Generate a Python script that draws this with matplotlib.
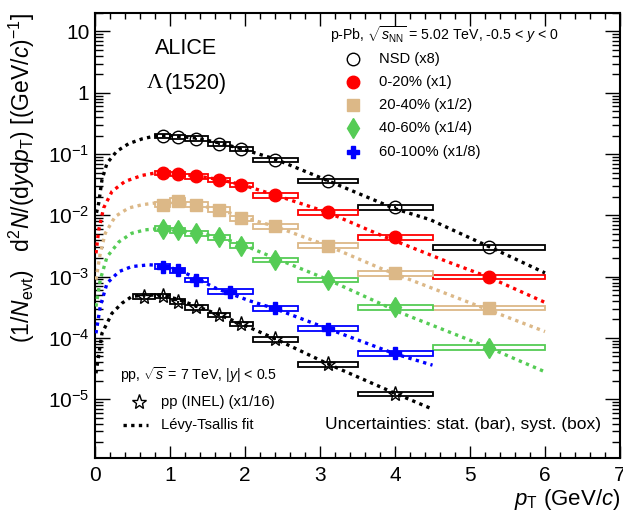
import numpy as np
import matplotlib
matplotlib.use('Agg')
import matplotlib.pyplot as plt
from matplotlib.patches import Rectangle
from matplotlib.lines import Line2D
from matplotlib.ticker import FuncFormatter, LogLocator, MultipleLocator

plt.rcParams['font.family'] = ['Liberation Sans', 'DejaVu Sans']
plt.rcParams['mathtext.fontset'] = 'custom'
plt.rcParams['mathtext.rm'] = 'Liberation Sans'
plt.rcParams['mathtext.it'] = 'Liberation Sans:italic'
plt.rcParams['mathtext.bf'] = 'Liberation Sans:bold'

# p-Pb bins (GeV/c)
edges_pPb = [0.8, 1.0, 1.2, 1.5, 1.8, 2.1, 2.7, 3.5, 4.5, 6.0]
pt_pPb = [0.9, 1.1, 1.35, 1.65, 1.95, 2.4, 3.1, 4.0, 5.25]
nsd = [0.200, 0.190, 0.179, 0.148, 0.121, 0.081, 0.0367, 0.0135, 0.0030]
c0_20 = [0.0491, 0.0472, 0.0432, 0.0382, 0.0316, 0.0212, 0.0112, 0.00436, 0.00100]
c20_40 = [0.0149, 0.0173, 0.0149, 0.0124, 0.00904, 0.00659, 0.00322, 0.00114, 0.000309]
c40_60 = [0.00604, 0.00566, 0.00513, 0.00441, 0.00322, 0.00188, 0.000888, 0.000315, 0.0000695]

edges_60 = [0.8, 1.0, 1.2, 1.5, 2.1, 2.7, 3.5, 4.5]
pt_60 = [0.9, 1.1, 1.35, 1.8, 2.4, 3.1, 4.0]
c60_100 = [0.00146, 0.00126, 0.000888, 0.000572, 0.000305, 0.000142, 0.0000562]

# pp 7 TeV
edges_pp = [0.5, 0.8, 1.0, 1.2, 1.5, 1.8, 2.1, 2.7, 3.5, 4.5]
pt_pp = [0.65, 0.9, 1.1, 1.35, 1.65, 1.95, 2.4, 3.1, 4.0]
pp = [0.000473, 0.000486, 0.000392, 0.000317, 0.000238, 0.000169, 0.0000950, 0.0000371, 0.0000122]

# Levy-Tsallis fit curves
fit_nsd_pt = [0.02, 0.05, 0.093, 0.16, 0.29, 0.45, 0.63, 0.8, 1.0, 1.35, 1.65, 1.95, 2.4, 3.1, 4.0, 4.47, 5.25, 6.0]
fit_nsd = [0.011, 0.016, 0.038, 0.071, 0.111, 0.148, 0.177, 0.197, 0.200, 0.182, 0.153, 0.122, 0.083, 0.037, 0.0128, 0.0085, 0.0031, 0.00115]
fit_0_20_pt = [0.013, 0.05, 0.115, 0.227, 0.40, 0.63, 0.8, 1.0, 1.35, 1.65, 1.95, 2.4, 3.1, 3.8, 4.69, 5.25, 6.0]
fit_0_20 = [0.0024, 0.0058, 0.0132, 0.0246, 0.0358, 0.0449, 0.049, 0.049, 0.0440, 0.0385, 0.0318, 0.0215, 0.0112, 0.0048, 0.00177, 0.00098, 0.00038]
fit_20_40_pt = [0.013, 0.07, 0.137, 0.27, 0.45, 0.63, 0.8, 1.0, 1.35, 1.65, 1.95, 2.4, 3.1, 3.8, 5.13, 6.0]
fit_20_40 = [0.00089, 0.0024, 0.0051, 0.0096, 0.0132, 0.0149, 0.0159, 0.0160, 0.0148, 0.0125, 0.0095, 0.0066, 0.0032, 0.00138, 0.000325, 0.000127]
fit_40_60_pt = [0.013, 0.07, 0.16, 0.32, 0.49, 0.67, 0.8, 1.0, 1.35, 1.65, 1.95, 2.4, 3.1, 4.07, 5.27, 6.0]
fit_40_60 = [0.000325, 0.00089, 0.0021, 0.0037, 0.0051, 0.0058, 0.0060, 0.0059, 0.0052, 0.0044, 0.0034, 0.0020, 0.00090, 0.000259, 0.000068, 0.000028]
fit_60_100_pt = [0.013, 0.07, 0.16, 0.32, 0.49, 0.72, 0.9, 1.1, 1.27, 1.62, 2.07, 2.4, 3.1, 4.0, 4.5]
fit_60_100 = [0.000119, 0.000325, 0.00078, 0.00121, 0.00146, 0.00156, 0.00152, 0.00130, 0.00105, 0.00064, 0.00040, 0.00030, 0.000142, 0.000055, 0.000036]
fit_pp_pt = [0.013, 0.093, 0.227, 0.36, 0.49, 0.67, 0.9, 1.1, 1.35, 1.65, 1.95, 2.4, 3.1, 4.0, 4.5]
fit_pp = [0.0000265, 0.000119, 0.000253, 0.000369, 0.000473, 0.000505, 0.000495, 0.00043, 0.00033, 0.000240, 0.000170, 0.000097, 0.000038, 0.0000125, 0.0000069]

W, H = 623, 518
def fx(x):
    return x / W
def fy(y):
    return 1 - y / H

fig = plt.figure(figsize=(W / 100, H / 100), dpi=100)
ax = fig.add_axes([fx(95), fy(458), fx(620) - fx(95), fy(13) - fy(458)])
ax.set_yscale('log')
ax.set_xlim(0, 7)
ax.set_ylim(1.1e-6, 20)

series = [
    # label, x, y, edges, fit x, fit y, color, marker, ms, filled, syst
    ('NSD (x8)', pt_pPb, nsd, edges_pPb, fit_nsd_pt, fit_nsd, 'black', 'o', 9, False, 0.08),
    ('0-20% (x1)', pt_pPb, c0_20, edges_pPb, fit_0_20_pt, fit_0_20, '#ff0000', 'o', 9, True, 0.08),
    ('20-40% (x1/2)', pt_pPb, c20_40, edges_pPb, fit_20_40_pt, fit_20_40, '#dcb887', 's', 8.5, True, 0.09),
    ('40-60% (x1/4)', pt_pPb, c40_60, edges_pPb, fit_40_60_pt, fit_40_60, '#55cc55', 'd', 10, True, 0.09),
    ('60-100% (x1/8)', pt_60, c60_100, edges_60, fit_60_100_pt, fit_60_100, '#0000ff', 'P', 9, True, 0.09),
    ('pp (INEL) (x1/16)', pt_pp, pp, edges_pp, fit_pp_pt, fit_pp, 'black', '*', 11, False, 0.09),
]

for label, x, y, edges, fpt, fval, col, mk, ms, filled, syst in series:
    y = np.array(y)
    for i in range(len(x)):
        lo, hi = edges[i], edges[i + 1]
        ax.add_patch(Rectangle((lo, y[i] * (1 - syst)), hi - lo, y[i] * 2 * syst,
                               fill=False, edgecolor=col, lw=1.3, zorder=2))
    ax.plot(fpt, fval, color=col, ls=(0, (1, 1.3)), lw=2.4, zorder=3)
    ax.errorbar(x, y, yerr=0.04 * y, fmt='none', ecolor=col, elinewidth=1.3, zorder=4)
    ax.plot(x, y, ls='none', marker=mk, ms=ms, color=col,
            mfc=col if filled else 'none', mec=col, mew=1.0, zorder=5)

ax.xaxis.set_major_locator(MultipleLocator(1))
ax.xaxis.set_minor_locator(MultipleLocator(0.2))
ax.yaxis.set_major_locator(LogLocator(base=10, numticks=20))
ax.yaxis.set_minor_locator(LogLocator(base=10, subs=np.arange(2, 10), numticks=20))

def ylab(v, pos):
    e = int(round(np.log10(v)))
    if e == 0:
        return '1'
    if e == 1:
        return '10'
    return r'$10^{%d}$' % e
ax.yaxis.set_major_formatter(FuncFormatter(ylab))
ax.yaxis.set_minor_formatter(FuncFormatter(lambda v, p: ''))

ax.tick_params(which='both', direction='in', top=True, right=True, labelsize=15, width=1.0)
ax.tick_params(axis='x', which='major', length=9, pad=6)
ax.tick_params(axis='x', which='minor', length=4.5)
ax.tick_params(axis='y', which='major', length=11, pad=4)
ax.tick_params(axis='y', which='minor', length=5.5)
for s in ax.spines.values():
    s.set_linewidth(1.5)

fig.text(fx(22), fy(178),
         r'$(1/N_{\rm evt})$   d$^{2}$$N$/(d$y$d$p_{\rm T}$) [(GeV/$c$)$^{-1}$]',
         rotation=90, ha='center', va='center', fontsize=16.5)
fig.text(fx(620), fy(500), r'$p_{\rm T}$ (GeV/$c$)', ha='right', va='center', fontsize=16)

fig.text(fx(155), fy(49), 'ALICE', ha='left', va='center', fontsize=15.5)
fig.text(fx(147), fy(84), 'Λ', ha='left', va='center', fontsize=16, family='Liberation Serif')
fig.text(fx(165), fy(84), '(1520)', ha='left', va='center', fontsize=15.5)

fig.text(fx(330), fy(35), r'p-Pb, $\sqrt{s_{\rm NN}}$ = 5.02 TeV, -0.5 < $y$ < 0',
         ha='left', va='center', fontsize=10.2)
leg_y = [59, 82, 105, 128, 152]
for (label, x, y, edges, fpt, fval, col, mk, ms, filled, syst), ly in zip(series[:5], leg_y):
    fig.add_artist(Line2D([fx(353)], [fy(ly)], ls='none', marker=mk, ms=ms, color=col,
                          mfc=col if filled else 'none', mec=col))
    fig.text(fx(379), fy(ly), label, ha='left', va='center', fontsize=10.6)

fig.text(fx(120), fy(375), r'pp, $\sqrt{s}$ = 7 TeV, |$y$| < 0.5', ha='left', va='center', fontsize=10.2)
fig.add_artist(Line2D([fx(139)], [fy(402)], ls='none', marker='*', ms=11, color='black', mfc='none'))
fig.text(fx(161), fy(402), series[5][0], ha='left', va='center', fontsize=10.6)
fig.add_artist(Line2D([fx(123), fx(148)], [fy(425), fy(425)], color='black', ls=(0, (1, 1.3)), lw=2.4))
fig.text(fx(161), fy(425), 'Lévy-Tsallis fit', ha='left', va='center', fontsize=10.6)
fig.text(fx(325), fy(425), 'Uncertainties: stat. (bar), syst. (box)', ha='left', va='center', fontsize=12.5)

fig.savefig('out.png', dpi=100)
